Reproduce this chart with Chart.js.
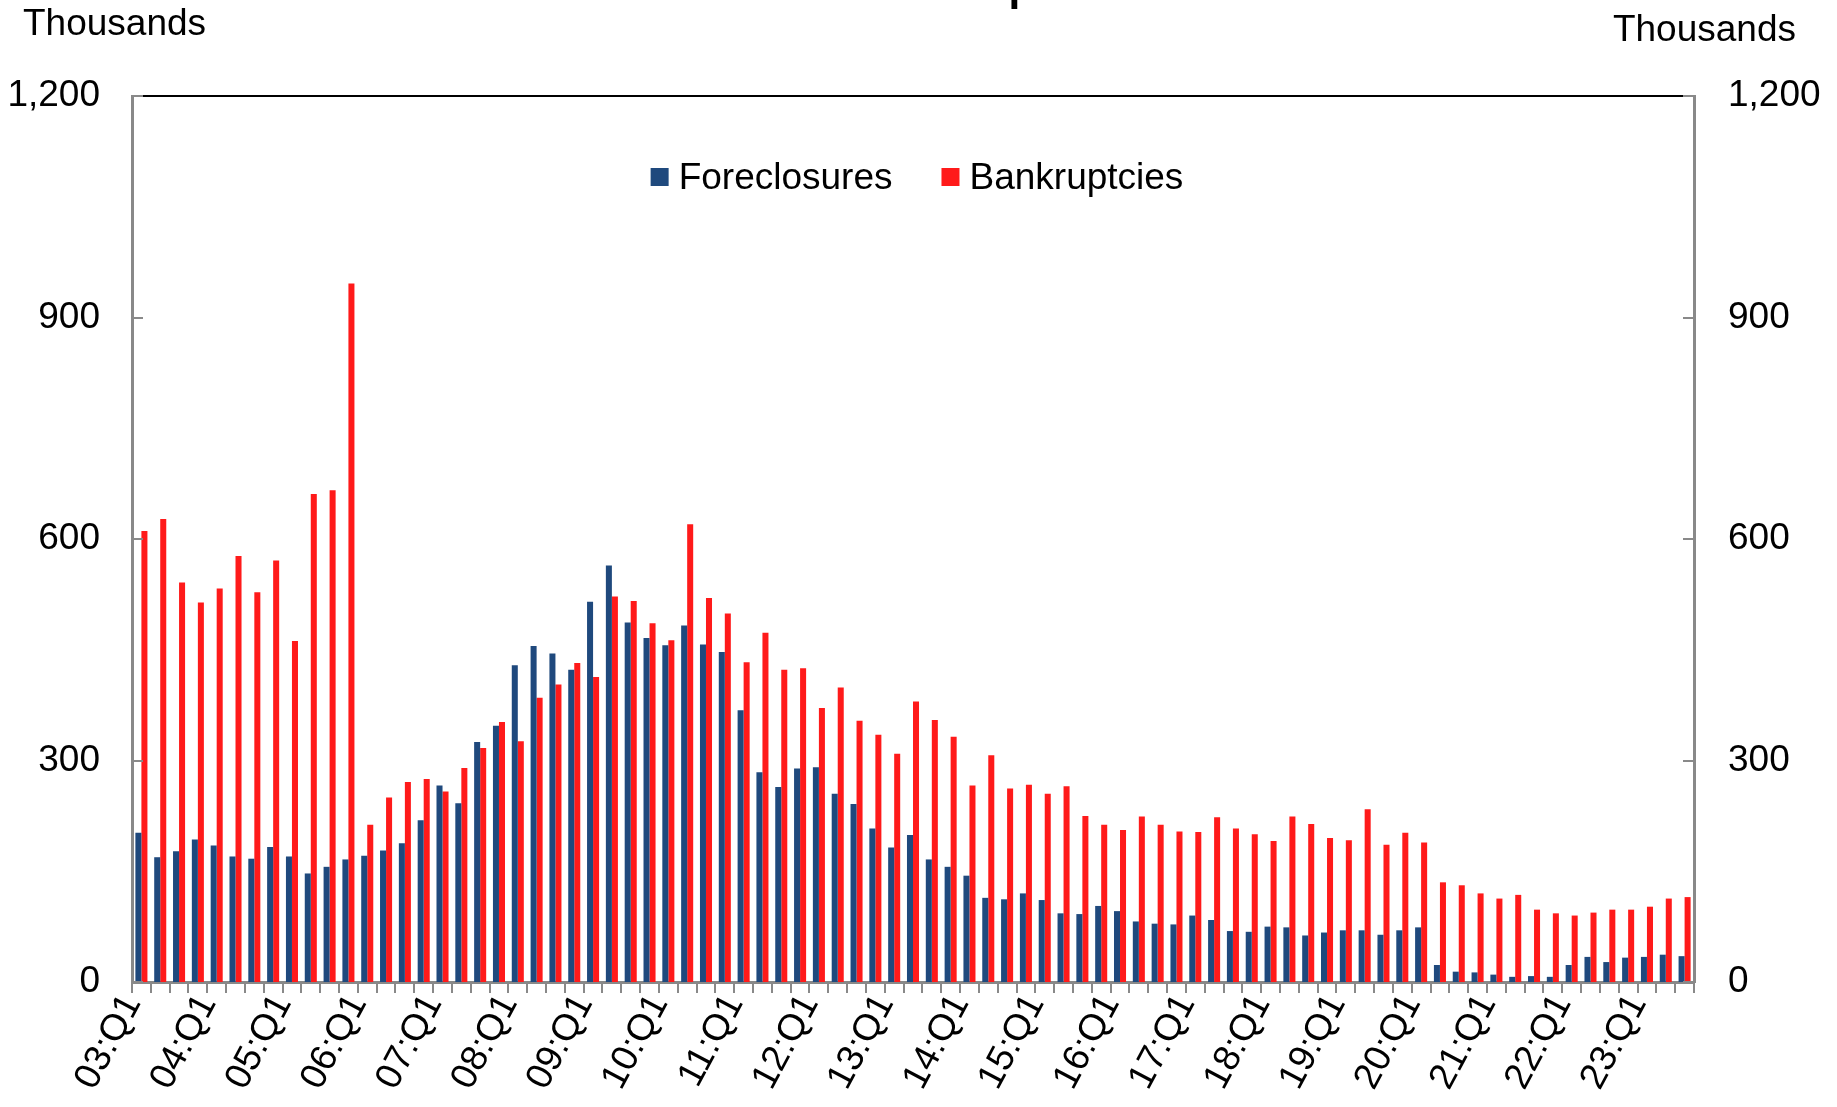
<!DOCTYPE html>
<html>
<head>
<meta charset="utf-8">
<script src="https://cdn.jsdelivr.net/npm/chart.js@4.4.0/dist/chart.umd.min.js"></script>
<style>
  html, body { margin: 0; padding: 0; background: #fff; overflow: hidden; }
  #wrap { position: relative; width: 1837px; height: 1107px; overflow: hidden; }
  #chart { position: absolute; left: 0; top: 0; }
  #ttl {
    position: absolute; top: -61px; left: 0;
    font-family: 'Liberation Sans', Arial, sans-serif; font-size: 66px;
    line-height: 1; white-space: nowrap; color: #000;
  }
</style>
</head>
<body>
<div id="wrap">
  <canvas id="chart" width="1837" height="1107"></canvas>
  <div id="ttl">Foreclosures and Bankru<span id="tp">p</span>tcies</div>
</div>
<script>
// quarterly, 2003:Q1 - 2023:Q3, thousands
const firstYear = 3;
const nQuarters = 83;

const foreclosures = [
  202, 169, 177, 193, 185, 170, 167, 183, 170, 147, 156, 166,
  171, 178, 188, 219, 266, 242, 325, 347, 429, 455, 445, 423,
  515, 564, 487, 466, 456, 483, 457, 447, 368, 284, 264, 289,
  291, 255, 241, 208, 182, 199, 166, 156, 144, 114, 112, 120,
  111, 93, 92, 103, 96, 82, 79, 78, 90, 84, 69, 68,
  75, 74, 63, 67, 70, 70, 64, 70, 74, 23, 14, 13,
  10, 7, 8, 7, 23, 34, 27, 33, 34, 37, 35
];

const bankruptcies = [
  611, 627, 541, 514, 533, 577, 528, 571, 462, 661, 666, 946,
  213, 250, 271, 275, 258, 290, 317, 352, 326, 385, 403, 432,
  413, 522, 516, 486, 463, 620, 520, 499, 433, 473, 423, 425,
  371, 399, 354, 335, 309, 380, 355, 332, 266, 307, 262, 267,
  255, 265, 225, 213, 206, 224, 213, 204, 203, 223, 208, 200,
  191, 224, 214, 195, 192, 234, 186, 202, 189, 135, 131, 120,
  113, 118, 98, 93, 90, 94, 98, 98, 102, 113, 115
];

const yTicks = [0, 300, 600, 900, 1200];
const seriesNames = ['Foreclosures', 'Bankruptcies'];
const seriesColors = ['#1F497D', '#FF1A1A'];

let quarters = [];
for (let i = 0; i < nQuarters; i++) {
  let yr = firstYear + Math.floor(i / 4);
  quarters.push((yr < 10 ? '0' : '') + yr + ':Q' + (i % 4 + 1));
}

const FONT = "'Liberation Sans', Arial, sans-serif";
Chart.defaults.font.family = FONT;
Chart.defaults.color = '#000';

// legend, unit labels, top frame line and inward y ticks
const decor = {
  id: 'decor',
  afterDatasetsDraw(chart) {
    const {ctx, chartArea: a, scales} = chart;
    ctx.save();
    ctx.strokeStyle = '#000';
    ctx.lineWidth = 2;
    ctx.beginPath();
    ctx.moveTo(a.left, a.top);
    ctx.lineTo(a.right, a.top);
    ctx.stroke();

    ctx.strokeStyle = '#898989';
    ctx.lineWidth = 2;
    yTicks.forEach(v => {
      let y = Math.round(scales.y.getPixelForValue(v));
      ctx.beginPath();
      ctx.moveTo(a.left, y); ctx.lineTo(a.left + 11, y);
      ctx.moveTo(a.right - 11, y); ctx.lineTo(a.right, y);
      ctx.stroke();
    });
    ctx.restore();
  },
  afterDraw(chart) {
    const {ctx, chartArea: a} = chart;
    ctx.save();
    ctx.fillStyle = '#000';
    ctx.textBaseline = 'alphabetic';
    ctx.font = '37px ' + FONT;
    ctx.textAlign = 'left';
    ctx.fillText('Thousands', 23, 35);
    ctx.textAlign = 'right';
    ctx.fillText('Thousands', 1796, 41);

    // legend
    ctx.textAlign = 'left';
    let box = 18, gapTxt = 10, gapItem = 49;
    let widths = chart.data.datasets.map(d => ctx.measureText(d.label).width);
    let total = widths.reduce((s, w) => s + box + gapTxt + w, 0) + gapItem;
    let x = (a.left + a.right) / 2 - total / 2 + 4;
    chart.data.datasets.forEach((d, i) => {
      ctx.fillStyle = d.backgroundColor;
      ctx.fillRect(x, 168, box, box);
      ctx.fillStyle = '#000';
      ctx.fillText(d.label, x + box + gapTxt, 189);
      x += box + gapTxt + widths[i] + gapItem;
    });
    ctx.restore();
  }
};

const config = {
  type: 'bar',
  data: {
    labels: quarters,
    datasets: [
      {label: seriesNames[0], data: foreclosures, backgroundColor: seriesColors[0], borderWidth: 0},
      {label: seriesNames[1], data: bankruptcies, backgroundColor: seriesColors[1], borderWidth: 0}
    ]
  },
  options: {
    responsive: false,
    animation: false,
    layout: {padding: {top: 96, left: 0, right: 0, bottom: 0}},
    datasets: {bar: {categoryPercentage: 0.64, barPercentage: 1.0}},
    plugins: {
      legend: {display: false},
      title: {display: false},
      tooltip: {enabled: false}
    },
    scales: {
      x: {
        offset: true,
        grid: {
          display: true, offset: true, drawOnChartArea: false, drawTicks: true,
          tickLength: 11, color: '#898989', lineWidth: 2
        },
        border: {display: true, color: '#898989', width: 3},
        ticks: {
          autoSkip: false, minRotation: 62, maxRotation: 62, padding: -6, labelOffset: -9,
          font: {size: 37},
          callback: function(val, idx) { return idx % 4 === 0 ? this.getLabelForValue(val) : ''; }
        },
        afterFit: s => { s.height = 125; }
      },
      y: {
        position: 'left', min: 0, max: 1200,
        afterBuildTicks: s => { s.ticks = yTicks.map(v => ({value: v})); },
        grid: {display: false},
        border: {display: true, color: '#898989', width: 3},
        ticks: {padding: 24, font: {size: 37}, callback: v => v.toLocaleString('en-US')},
        afterFit: s => { s.width = 132; }
      },
      y2: {
        position: 'right', min: 0, max: 1200,
        afterBuildTicks: s => { s.ticks = yTicks.map(v => ({value: v})); },
        grid: {display: false},
        border: {display: true, color: '#898989', width: 3},
        ticks: {padding: 26, font: {size: 37}, callback: v => v.toLocaleString('en-US')},
        afterFit: s => { s.width = 143; }
      }
    }
  },
  plugins: [decor]
};

new Chart(document.getElementById('chart').getContext('2d'), config);

// only the descender of the cut-off title shows at the top edge
let ttl = document.getElementById('ttl');
let r = document.getElementById('tp').getBoundingClientRect();
ttl.style.left = (1007 - r.left) + 'px';
</script>
</body>
</html>
